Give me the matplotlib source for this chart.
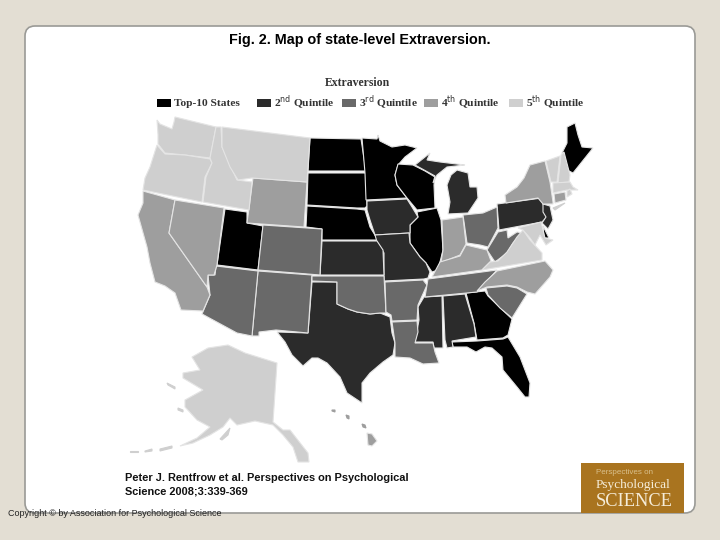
import matplotlib
matplotlib.use('Agg')
import matplotlib.pyplot as plt
from matplotlib.patches import Polygon, Rectangle, FancyBboxPatch

plt.rcParams['font.family'] = ['Liberation Sans', 'DejaVu Sans']

title = 'Fig. 2. Map of state-level Extraversion.'
map_title = 'Extraversion'
legend_labels = ['Top-10 States', '2$^{\\mathrm{nd}}$ Quintile', '3$^{\\mathrm{rd}}$ Quintile',
                 '4$^{\\mathrm{th}}$ Quintile', '5$^{\\mathrm{th}}$ Quintile']
quintile_colors = ['#000000', '#2b2b2b', '#696969', '#9e9e9e', '#cfcfcf']

# quintile of each state, 0 = top ten
top_ten = ['ND', 'SD', 'NE', 'MN', 'WI', 'IL', 'UT', 'ME', 'GA', 'FL', 'DE']
second = ['MI', 'UP', 'IA', 'MO', 'KS', 'TX', 'MS', 'AL', 'PA', 'NJ']
third = ['CO', 'NM', 'AZ', 'OK', 'AR', 'LA', 'OH', 'TN', 'SC', 'WV']
fourth = ['CA', 'NV', 'WY', 'NY', 'IN', 'KY', 'NC', 'CT', 'HI', 'HI2', 'HI3', 'HI4']
fifth = ['WA', 'OR', 'ID', 'MT', 'AK', 'AK2', 'AK3', 'AK4', 'AK5', 'AK6', 'AK7', 'VA', 'VT', 'NH', 'MA', 'RI', 'MD', 'LI']
no_rim = ['AK2', 'AK3', 'AK4', 'AK5', 'AK6', 'AK7', 'HI2', 'HI3', 'HI4', 'LI']

# state outlines
outlines = {
    'WA': [(157,120),(160,124),(172,129),(174,122),(175,117),(216,127),(210,158),(185,155),(165,153),(158,144),(158,135)],
    'OR': [(157,145),(165,154),(185,155),(210,159),(212,163),(205,177),(202,202),(143,190),(145,178),(150,167)],
    'ID': [(216,127),(221,127),(222,147),(230,165),(237,180),(252,182),(249,210),(203,202),(206,177),(212,163),(210,158)],
    'MT': [(222,127),(310,138),(307,182),(252,178),(238,180),(230,167),(222,147)],
    'WY': [(253,178),(307,182),(304,227),(247,223)],
    'ND': [(310,138),(361,139),(366,171),(308,171)],
    'SD': [(308,173),(366,173),(367,206),(365,208),(357,208),(307,205)],
    'NE': [(307,206),(357,209),(365,210),(370,227),(378,240),(322,240),(322,229),(306,227)],
    'CO': [(263,225),(322,229),(320,275),(258,270)],
    'UT': [(225,209),(247,212),(247,223),(263,226),(258,270),(217,265)],
    'NV': [(175,200),(224,208),(217,265),(214,275),(208,275),(207,287),(169,233)],
    'CA': [(143,191),(175,200),(169,233),(207,287),(210,295),(203,311),(181,310),(175,293),(165,286),(155,282),(150,263),
           (147,247),(138,215),(143,203)],
    'AZ': [(216,266),(258,271),(252,336),(237,333),(202,314),(210,295),(208,275),(215,275)],
    'NM': [(258,271),(312,275),(308,333),(276,330),(259,332),(259,336),(252,336)],
    'TX': [(312,282),(337,282),(337,304),(348,309),(357,312),(370,314),(380,313),(390,317),(392,333),(395,343),(393,355),
           (383,362),(370,373),(362,383),(362,403),(347,393),(340,377),(327,363),(318,358),(312,358),(303,366),(292,355),
           (285,342),(277,332),(308,333)],
    'OK': [(312,276),(384,276),(386,313),(380,313),(370,314),(357,312),(348,309),(337,304),(337,282),(312,281)],
    'KS': [(322,241),(377,241),(383,250),(384,275),(320,275)],
    'IA': [(367,201),(407,199),(412,207),(415,212),(418,217),(410,225),(410,233),(375,235),(370,220),(367,210)],
    'MO': [(375,235),(409,233),(410,243),(420,257),(426,263),(430,272),(428,278),(424,279),(384,281),(384,253),(377,242)],
    'MN': [(362,138),(377,139),(378,135),(380,141),(392,147),(405,145),(417,148),(405,157),(398,165),(395,175),(397,185),
           (407,198),(366,200),(365,173)],
    'WI': [(398,164),(413,165),(425,171),(435,177),(434,185),(435,208),(417,210),(407,198),(397,185),(395,175)],
    'IL': [(417,212),(437,208),(441,220),(443,250),(438,270),(432,272),(426,263),(420,257),(410,243),(410,233),(410,225),(418,217)],
    'IN': [(442,220),(463,217),(466,244),(460,255),(450,259),(442,262),(440,268),(443,250)],
    'OH': [(463,215),(483,213),(497,207),(498,228),(488,247),(480,245),(467,243)],
    'MI': [(447,185),(451,175),(457,170),(468,173),(470,187),(477,187),(478,198),(468,213),(448,214),(450,202)],
    'UP': [(415,165),(430,153),(427,160),(440,162),(465,165),(447,167),(437,175),(433,183),(435,176)],
    'KY': [(466,245),(487,250),(491,261),(482,270),(432,277),(440,262),(450,259),(460,256)],
    'TN': [(497,270),(477,292),(425,297),(428,279),(482,272)],
    'VA': [(542,260),(482,270),(490,262),(498,261),(507,252),(517,237),(523,230),(530,240),(542,253)],
    'WV': [(487,250),(498,232),(507,230),(508,238),(517,232),(523,233),(513,243),(507,253),(495,262)],
    'MD': [(518,228),(541,222),(545,238),(553,240),(546,245),(540,235),(535,245),(530,238),(523,230)],
    'DE': [(543,226),(549,238),(544,238)],
    'NJ': [(543,204),(550,206),(553,220),(548,229),(542,223),(546,217),(543,212)],
    'PA': [(497,204),(542,198),(545,213),(547,217),(542,222),(499,230)],
    'NY': [(545,161),(550,182),(553,202),(553,204),(543,204),(538,198),(506,203),(505,195),(517,187),(524,178),(530,165)],
    'LI': [(553,208),(565,203),(555,210)],
    'VT': [(546,161),(560,156),(557,182),(551,182)],
    'NH': [(561,155),(564,152),(570,175),(569,182),(558,183)],
    'ME': [(567,127),(575,123),(578,135),(582,147),(593,148),(585,158),(573,173),(567,170),(562,153),(567,143)],
    'MA': [(553,183),(570,182),(573,187),(578,190),(572,190),(567,190),(553,193)],
    'CT': [(554,194),(565,192),(566,200),(555,203)],
    'RI': [(567,191),(570,189),(572,194),(567,197)],
    'NC': [(545,261),(553,270),(550,277),(535,294),(527,292),(517,287),(507,285),(487,287),(477,291),(485,282),(497,271)],
    'SC': [(486,288),(507,286),(517,288),(527,294),(512,318),(500,308),(488,295)],
    'GA': [(466,293),(485,291),(488,296),(512,319),(508,335),(503,338),(477,340),(474,323)],
    'AL': [(443,296),(465,294),(474,324),(476,337),(452,341),(453,347),(447,348),(445,340)],
    'MS': [(424,297),(442,296),(443,348),(434,348),(433,342),(415,342),(419,320),(418,307)],
    'AR': [(385,282),(423,280),(427,285),(418,305),(417,320),(392,321),(391,315),(386,312)],
    'LA': [(392,322),(417,321),(418,332),(415,343),(433,343),(435,352),(439,363),(423,364),(410,358),(395,357),(395,343)],
    'FL': [(452,342),(477,341),(503,339),(508,337),(520,357),(530,383),(529,397),(525,397),(517,387),(503,370),(502,357),
           (492,348),(485,347),(476,352),(467,347),(453,347)],
    'AK': [(228,345),(245,353),(277,363),(273,422),(283,430),(290,430),(308,453),(309,462),(298,462),(293,447),(283,435),
           (273,425),(255,421),(237,425),(230,418),(223,427),(210,435),(193,443),(180,446),(197,438),(210,427),(197,420),
           (185,407),(185,400),(203,390),(183,378),(183,373),(200,370),(192,357),(208,348)],
    'AK2': [(220,439),(230,428),(228,435),(222,440)],
    'AK3': [(167,383),(175,387),(175,389),(168,385)],
    'AK4': [(178,408),(183,410),(183,412),(178,410)],
    'AK5': [(160,449),(172,446),(172,448),(160,451)],
    'AK6': [(145,451),(152,449),(152,451),(145,452)],
    'AK7': [(130,451),(138,451),(138,452),(130,452)],
    'HI': [(367,433),(372,434),(377,441),(372,446),(368,445)],
    'HI2': [(362,424),(365,425),(366,428),(363,427)],
    'HI3': [(346,415),(349,416),(349,419),(347,418)],
    'HI4': [(332,410),(335,410),(335,412),(332,411)],
}

fig = plt.figure(figsize=(7.2, 5.4), dpi=100, facecolor='#e3ded3')
ax = fig.add_axes([0, 0, 1, 1])
ax.set_xlim(0, 720)
ax.set_ylim(540, 0)
ax.axis('off')

# white slide panel
panel = FancyBboxPatch((35, 36), 650, 467, boxstyle='round,pad=10,rounding_size=10',
                       facecolor='white', edgecolor='#9a9a96', linewidth=1.2)
ax.add_patch(panel)

ax.text(360, 40, title, ha='center', va='center', fontsize=10.4, fontweight='bold', color='black')

groups = [top_ten, second, third, fourth, fifth]
for group, color in zip(groups, quintile_colors):
    for state in group:
        rim = color if state in no_rim else '#e4e4e4'
        ax.add_patch(Polygon(outlines[state], closed=True, facecolor=color, edgecolor=rim, linewidth=0.8))

# legend of the map
serif = ['Liberation Serif', 'DejaVu Serif']
ax.text(357, 83, map_title, ha='center', va='center', fontsize=8.5, fontweight='bold', family=serif, color='#333333')
swatch_x = [157, 257, 342, 424, 509]
for x, color, label in zip(swatch_x, quintile_colors, legend_labels):
    ax.add_patch(Rectangle((x, 98.5), 14, 8, facecolor=color, edgecolor='none'))
    ax.text(x + 17, 103, label, ha='left', va='center', fontsize=8.2, fontweight='bold', family=serif, color='#333333')

# citation and copyright
ax.text(125, 478, 'Peter J. Rentfrow et al. Perspectives on Psychological', ha='left', va='center',
        fontsize=7.9, fontweight='bold', color='#111111')
ax.text(125, 491, 'Science 2008;3:339-369', ha='left', va='center', fontsize=7.9, fontweight='bold', color='#111111')
ax.text(8, 514, 'Copyright \u00a9 by Association for Psychological Science', ha='left', va='center',
        fontsize=6.5, color='#222222')

# journal logo
ax.add_patch(Rectangle((581, 463), 103, 50, facecolor='#a9741f', edgecolor='none'))
ax.text(596, 473, 'Perspectives on', ha='left', va='center', fontsize=5.8, color='#d9c08c')
ax.text(596, 485, 'Psychological', ha='left', va='center', fontsize=9.6, family=serif, color='#f5ecd8')
ax.text(596, 501, 'SCIENCE', ha='left', va='center', fontsize=13.2, family=serif, color='#f5ecd8')

fig.savefig('out.png', dpi=100, facecolor=fig.get_facecolor())
